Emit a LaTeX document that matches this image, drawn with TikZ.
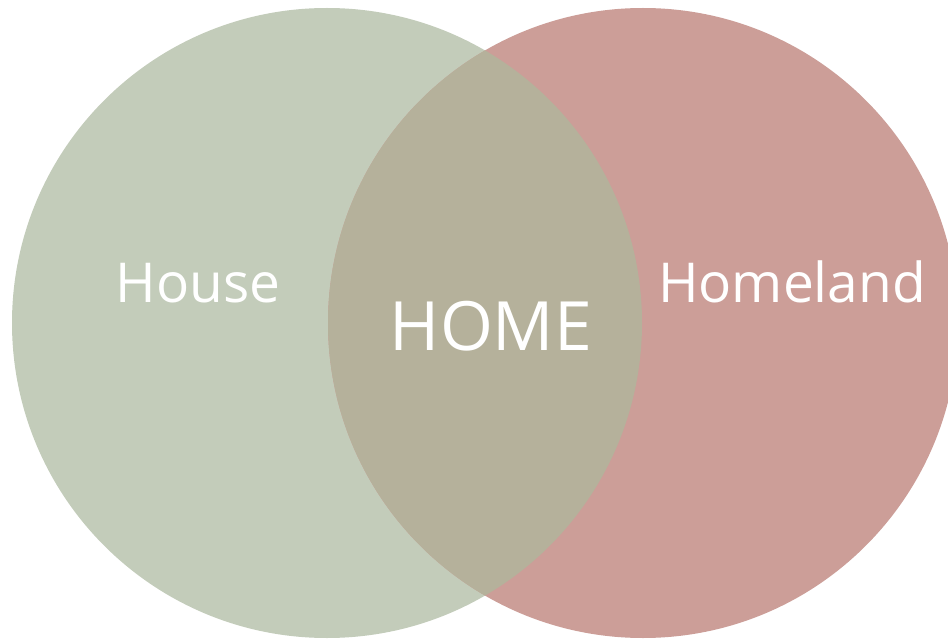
\documentclass[tikz,border=0pt]{standalone}
\usepackage{fontspec}
\setmainfont{Open Sans}
\definecolor{housegreen}{RGB}{195,204,186}
\definecolor{landred}{RGB}{204,158,152}
\definecolor{homemix}{RGB}{181,177,155}
\begin{document}
\begin{tikzpicture}[x=1pt, y=-1pt, every node/.style={text=white}]
  \tikzstyle{set}=[circle,inner sep=0pt,minimum size=630pt]
  \tikzstyle{label}=[anchor=base,font=\fontsize{55}{60}\selectfont]
  \fill[white] (0,0) rectangle (948,639);
  \useasboundingbox (0,0) rectangle (948,639);
  \node[set,fill=housegreen] (house) at (327,323) {};
  \node[set,fill=landred] (homeland) at (643,323) {};
  % overlap of the two sets
  \begin{scope}
    \clip (327,323) circle (315);
    \fill[homemix] (643,323) circle (315);
  \end{scope}
  \node[label] (houselbl) at (198,302) {House};
  \node[label] (landlbl) at (792,302) {Homeland};
  \node[label,font=\fontsize{68}{72}\selectfont] (homelbl) at (491,350) {HOME};
\end{tikzpicture}
\end{document}
